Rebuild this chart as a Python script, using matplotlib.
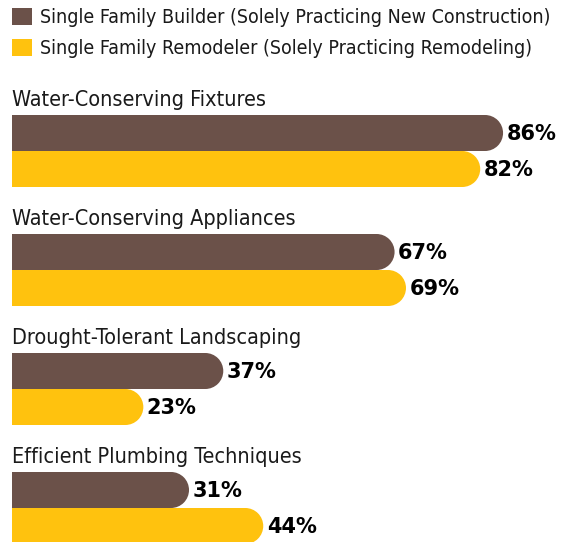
import matplotlib.pyplot as plt
from matplotlib.patches import Ellipse, Patch

# data
categories = ["Water-Conserving Fixtures",
              "Water-Conserving Appliances",
              "Drought-Tolerant Landscaping",
              "Efficient Plumbing Techniques"]
builder = [86, 67, 37, 31]
remodeler = [82, 69, 23, 44]
series_names = ["Single Family Builder (Solely Practicing New Construction)",
                "Single Family Remodeler (Solely Practicing Remodeling)"]

brown = "#6b5149"
yellow = "#ffc20e"

W, H = 562, 542
fig = plt.figure(figsize=(W / 100, H / 100), dpi=100)
ax = fig.add_axes([0, 0, 1, 1])

px_per_pct = 5.71          # horizontal pixels per percent
x0 = 12                    # left edge of bars, px
ax.set_xlim(-x0 / px_per_pct, (W - x0) / px_per_pct)
ax.set_ylim(H, 0)          # y in pixels from the top
ax.axis("off")

bar_h = 36
group_step = 119
first_center = 133
r_x = (bar_h / 2) / px_per_pct   # end-cap radius in data units


def rounded_bar(y, value, color):
    ax.barh(y, value - r_x, height=bar_h, color=color, linewidth=0)
    ax.add_patch(Ellipse((value - r_x, y), 2 * r_x, bar_h,
                         facecolor=color, edgecolor="none"))
    ax.text(value + 0.6, y + 1, f"{value}%", ha="left", va="center",
            fontsize=15, fontweight="heavy", family="DejaVu Sans",
            color="black")


for i, cat in enumerate(categories):
    yb = first_center + i * group_step
    yr = yb + bar_h
    ax.text(0, yb - 33, cat, ha="left", va="center", fontsize=15.5,
            family="DejaVu Sans", stretch="condensed", color="#1a1a1a")
    rounded_bar(yb, builder[i], brown)
    rounded_bar(yr, remodeler[i], yellow)

handles = [Patch(facecolor=brown, edgecolor="none", label=series_names[0]),
           Patch(facecolor=yellow, edgecolor="none", label=series_names[1])]
ax.legend(handles=handles, loc="upper left", bbox_to_anchor=(12 / W, 1 - 8 / H),
          bbox_transform=fig.transFigure, frameon=False,
          prop={"family": "DejaVu Sans", "stretch": "condensed", "size": 14},
          labelcolor="#1a1a1a",
          handlelength=1.05, handleheight=1.0, handletextpad=0.4,
          labelspacing=0.58, borderaxespad=0, borderpad=0)

fig.savefig("out.png", dpi=100)
